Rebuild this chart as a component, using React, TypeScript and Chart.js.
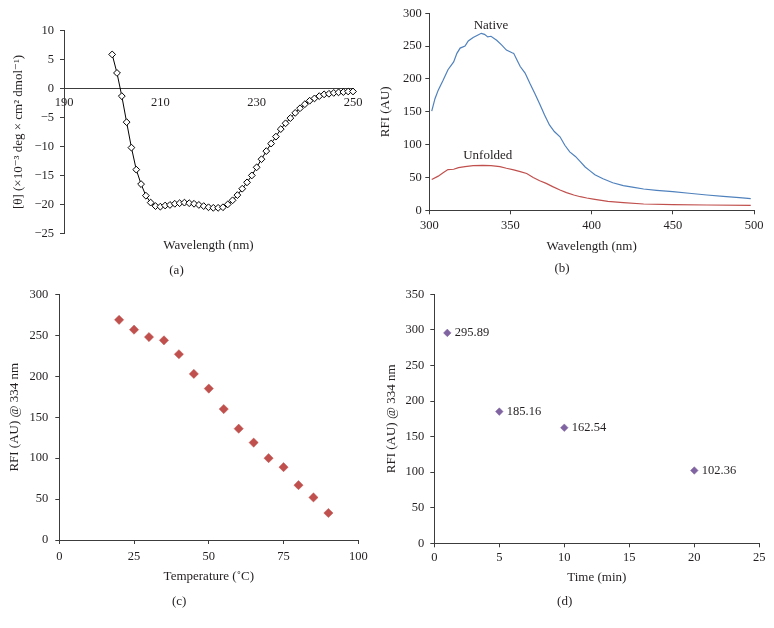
import React, { useEffect, useRef } from 'react';
import { Chart, registerables } from 'chart.js';

Chart.register(...registerables);

// ---------- (a) CD spectrum ----------
const cdWavelength = [
  200, 201, 202, 203, 204, 205, 206, 207, 208, 209,
  210, 211, 212, 213, 214, 215, 216, 217, 218, 219,
  220, 221, 222, 223, 224, 225, 226, 227, 228, 229,
  230, 231, 232, 233, 234, 235, 236, 237, 238, 239,
  240, 241, 242, 243, 244, 245, 246, 247, 248, 249, 250,
];
const cdEllipticity = [
  5.9, 2.7, -1.3, -5.8, -10.2, -14.0, -16.5, -18.5, -19.7, -20.3,
  -20.4, -20.2, -20.1, -19.9, -19.8, -19.7, -19.8, -19.9, -20.1, -20.3,
  -20.5, -20.6, -20.6, -20.5, -20.0, -19.3, -18.4, -17.3, -16.2, -15.0,
  -13.6, -12.2, -10.8, -9.5, -8.3, -7.0, -6.0, -5.1, -4.2, -3.4,
  -2.7, -2.1, -1.7, -1.3, -1.0, -0.9, -0.75, -0.65, -0.6, -0.5, -0.5,
];

// ---------- (b) fluorescence spectra ----------
const nativeWavelength = [
  301.5, 303.5, 305.5, 308.5, 311.5, 315, 317, 319, 322, 324,
  327, 330, 332, 334, 336, 338, 341.5, 344.5, 347.5, 351,
  352, 354, 356, 359, 362, 365, 368, 371, 374, 377,
  380.5, 383.5, 386.5, 390, 393, 396, 399, 402, 407, 413,
  419.5, 426, 432, 440, 450, 460, 471, 481, 491, 498,
];
const nativeRfi = [
  151, 170, 183, 198, 214, 226, 239, 247, 250, 258,
  263, 267, 269.5, 268, 264, 265, 259, 252, 244, 240,
  239, 229, 219, 209, 193, 178, 162, 145, 130, 120,
  112, 99, 89, 82, 74, 66, 60, 54, 48, 42,
  37.5, 35, 32.4, 30.4, 28.3, 26, 23.3, 21.3, 19.2, 17.7,
];
const unfoldedWavelength = [
  301.5, 305.5, 308.5, 311.5, 315, 318, 322, 327, 333, 338,
  343.5, 347.5, 352, 356, 360, 364, 368, 372, 376, 380.5,
  384.5, 389, 393, 397, 401, 405, 410, 419.5, 432, 450, 471, 498,
];
const unfoldedRfi = [
  47, 52, 57, 62, 62.5, 65, 66.5, 68, 68.5, 68,
  66.5, 64, 61.5, 59, 56, 50, 45, 41, 36, 31,
  27, 23.3, 20.7, 18.7, 17, 15.5, 13.5, 11.6, 9.6, 8.5, 8.1, 7.6,
];
const spectrumLabels = ['Native', 'Unfolded'];
const spectrumLabelX = [338, 336];
const spectrumLabelY = [281, 84];

// ---------- (c) thermal unfolding ----------
const temperature = [20, 25, 30, 35, 40, 45, 50, 55, 60, 65, 70, 75, 80, 85, 90];
const rfiTemperature = [269, 257, 248, 244, 227, 203, 185, 160, 136, 119, 100, 89, 67, 52, 33];

// ---------- (d) time course ----------
const time = [1, 5, 10, 20];
const rfiTime = [295.89, 185.16, 162.54, 102.36];

// ---------- styling ----------
const SERIF = '"Liberation Serif", "Times New Roman", "DejaVu Serif", serif';
const TEXT = '#231f20';
const AXIS = '#3c3c3c';
const tickFont = { family: SERIF, size: 12.5, lineHeight: 1.2, weight: 'normal' };
const titleFont = { family: SERIF, size: 13, lineHeight: 1.2, weight: 'normal' };

const fmtMinus = (v: any) => (Number(v) < 0 ? '\u2212' + Math.abs(Number(v)) : String(v));

function yAxis(min: number, max: number, step: number, width: number, text: string, titlePad: number, tickPad: number, callback?: any) {
  return {
    type: 'linear',
    position: 'left',
    min, max,
    ticks: { stepSize: step, font: tickFont, color: TEXT, padding: tickPad, callback: callback || ((v: any) => String(v)) },
    grid: { display: true, drawOnChartArea: false, drawTicks: true, tickLength: 4, tickColor: AXIS, tickWidth: 1 },
    border: { display: true, color: AXIS, width: 1 },
    title: { display: true, text, font: titleFont, color: TEXT, padding: { top: titlePad, bottom: 0 } },
    afterFit: (s: any) => { s.width = width; },
  };
}

function xAxis(min: number, max: number, step: number, height: number, text: string, titlePad: number, tickPad: number) {
  return {
    type: 'linear',
    position: 'bottom',
    min, max,
    ticks: { stepSize: step, font: tickFont, color: TEXT, padding: tickPad, maxRotation: 0 },
    grid: { display: true, drawOnChartArea: false, drawTicks: true, tickLength: 4, tickColor: AXIS, tickWidth: 1 },
    border: { display: true, color: AXIS, width: 1 },
    title: { display: true, text, font: titleFont, color: TEXT, padding: { top: 0, bottom: titlePad } },
    afterFit: (s: any) => { s.height = height; },
  };
}

function panelTitle(text: string) {
  return { display: true, text, position: 'bottom', padding: 0, font: titleFont, color: TEXT };
}

const textLabelsPlugin = {
  id: 'textLabels',
  afterDatasetsDraw(chart: any, _args: any, opts: any) {
    if (!opts || !opts.items) return;
    const { ctx } = chart;
    ctx.save();
    ctx.font = `${opts.size || 13}px ${SERIF}`;
    ctx.fillStyle = TEXT;
    ctx.textBaseline = 'middle';
    opts.items.forEach((it: any) => {
      const x = chart.scales.x.getPixelForValue(it.x) + (it.dx || 0);
      const y = chart.scales.y.getPixelForValue(it.y) + (it.dy || 0);
      ctx.textAlign = it.align || 'center';
      ctx.fillText(it.text, x, y);
    });
    ctx.restore();
  },
};

const baseOpts = {
  animation: false,
  responsive: false,
  maintainAspectRatio: false,
  events: [],
};

function makeA(): any {
  return {
    type: 'line',
    data: {
      datasets: [{
        data: cdWavelength.map((x, i) => ({ x, y: cdEllipticity[i] })),
        borderColor: '#000',
        borderWidth: 1,
        tension: 0,
        pointStyle: 'rectRot',
        pointRadius: 3.4,
        pointBackgroundColor: '#fff',
        pointBorderColor: '#000',
        pointBorderWidth: 1,
        clip: false,
      }],
    },
    options: {
      ...baseOpts,
      layout: { padding: { left: 0, top: 30.7, right: 34, bottom: 11.2 } },
      plugins: { legend: { display: false }, tooltip: { enabled: false }, title: panelTitle('(a)') },
      scales: {
        x: {
          type: 'linear', axis: 'x', position: { y: 0 }, min: 190, max: 250,
          ticks: { stepSize: 20, font: tickFont, color: TEXT, padding: 6.5, maxRotation: 0 },
          grid: { display: false, drawTicks: false },
          border: { display: true, color: AXIS, width: 1 },
        },
        x2: {
          type: 'linear', axis: 'x', position: 'bottom', min: 190, max: 250,
          ticks: { display: false },
          grid: { display: false, drawTicks: false },
          border: { display: false },
          title: { display: true, text: 'Wavelength (nm)', font: titleFont, color: TEXT, padding: { top: 0, bottom: 9.4 } },
          afterFit: (s: any) => { s.height = 29.9; },
        },
        y: yAxis(-25, 10, 5, 64, '[\u03B8] (\u00D710\u207B\u00B3 deg \u00D7 cm\u00B2 dmol\u207B\u00B9)', 10.5, 6, fmtMinus),
      },
    },
  };
}

function makeB(): any {
  return {
    type: 'line',
    data: {
      datasets: [
        {
          label: 'Native',
          data: nativeWavelength.map((x, i) => ({ x, y: nativeRfi[i] })),
          borderColor: '#4f81bd', borderWidth: 1.2, pointRadius: 0, tension: 0,
        },
        {
          label: 'Unfolded',
          data: unfoldedWavelength.map((x, i) => ({ x, y: unfoldedRfi[i] })),
          borderColor: '#c0504d', borderWidth: 1.2, pointRadius: 0, tension: 0,
        },
      ],
    },
    plugins: [textLabelsPlugin],
    options: {
      ...baseOpts,
      layout: { padding: { left: 0, top: 13.3, right: 20, bottom: 13.2 } },
      plugins: {
        legend: { display: false }, tooltip: { enabled: false }, title: panelTitle('(b)'),
        textLabels: {
          size: 13,
          items: spectrumLabels.map((t, i) => ({ text: t, x: spectrumLabelX[i], y: spectrumLabelY[i] })),
        },
      },
      scales: {
        x: xAxis(300, 500, 50, 50.9, 'Wavelength (nm)', 6.4, 4),
        y: yAxis(0, 300, 50, 59.3, 'RFI (AU)', 7.7, 3.6),
      },
    },
  };
}

function makeC(): any {
  return {
    type: 'scatter',
    data: {
      datasets: [{
        data: temperature.map((x, i) => ({ x, y: rfiTemperature[i] })),
        pointStyle: 'rectRot', pointRadius: 4.6,
        pointBackgroundColor: '#c0504d', pointBorderColor: '#c0504d', pointBorderWidth: 0.5,
      }],
    },
    options: {
      ...baseOpts,
      layout: { padding: { left: 0, top: 13.6, right: 28.7, bottom: 18.5 } },
      plugins: { legend: { display: false }, tooltip: { enabled: false }, title: panelTitle('(c)') },
      scales: {
        x: xAxis(0, 100, 25, 53.9, 'Temperature (\u02DAC)', 9.4, 5),
        y: yAxis(0, 300, 50, 59.3, 'RFI (AU) @ 334 nm', 7.2, 7),
      },
    },
  };
}

function makeD(): any {
  return {
    type: 'scatter',
    data: {
      datasets: [{
        data: time.map((x, i) => ({ x, y: rfiTime[i] })),
        pointStyle: 'rectRot', pointRadius: 3.8,
        pointBackgroundColor: '#8064a2', pointBorderColor: '#8064a2', pointBorderWidth: 0.5,
      }],
    },
    plugins: [textLabelsPlugin],
    options: {
      ...baseOpts,
      layout: { padding: { left: 0, top: 14.4, right: 14.7, bottom: 18.5 } },
      plugins: {
        legend: { display: false }, tooltip: { enabled: false }, title: panelTitle('(d)'),
        textLabels: {
          size: 12.5,
          items: time.map((t, i) => ({ text: rfiTime[i].toFixed(2), x: t, y: rfiTime[i], dx: 7.5, align: 'left' })),
        },
      },
      scales: {
        x: xAxis(0, 25, 5, 50.6, 'Time (min)', 8.4, 3),
        y: yAxis(0, 350, 50, 64.3, 'RFI (AU) @ 334 nm', 13.9, 6),
      },
    },
  };
}

function Panel({ left, top, width, height, make }: { left: number; top: number; width: number; height: number; make: () => any }) {
  const ref = useRef<HTMLCanvasElement | null>(null);
  useEffect(() => {
    if (!ref.current) return;
    const chart = new Chart(ref.current, make());
    return () => chart.destroy();
  }, []);
  return (
    <canvas
      ref={ref}
      width={width}
      height={height}
      style={{ position: 'absolute', left, top, width, height, display: 'block' }}
    />
  );
}

export default function App() {
  return (
    <div style={{ position: 'absolute', left: 0, top: 0, width: 774, height: 628, background: '#fff', overflow: 'hidden' }}>
      <Panel left={0} top={0} width={387} height={290} make={makeA} />
      <Panel left={370} top={0} width={404} height={290} make={makeB} />
      <Panel left={0} top={280} width={387} height={348} make={makeC} />
      <Panel left={370} top={280} width={404} height={348} make={makeD} />
    </div>
  );
}
